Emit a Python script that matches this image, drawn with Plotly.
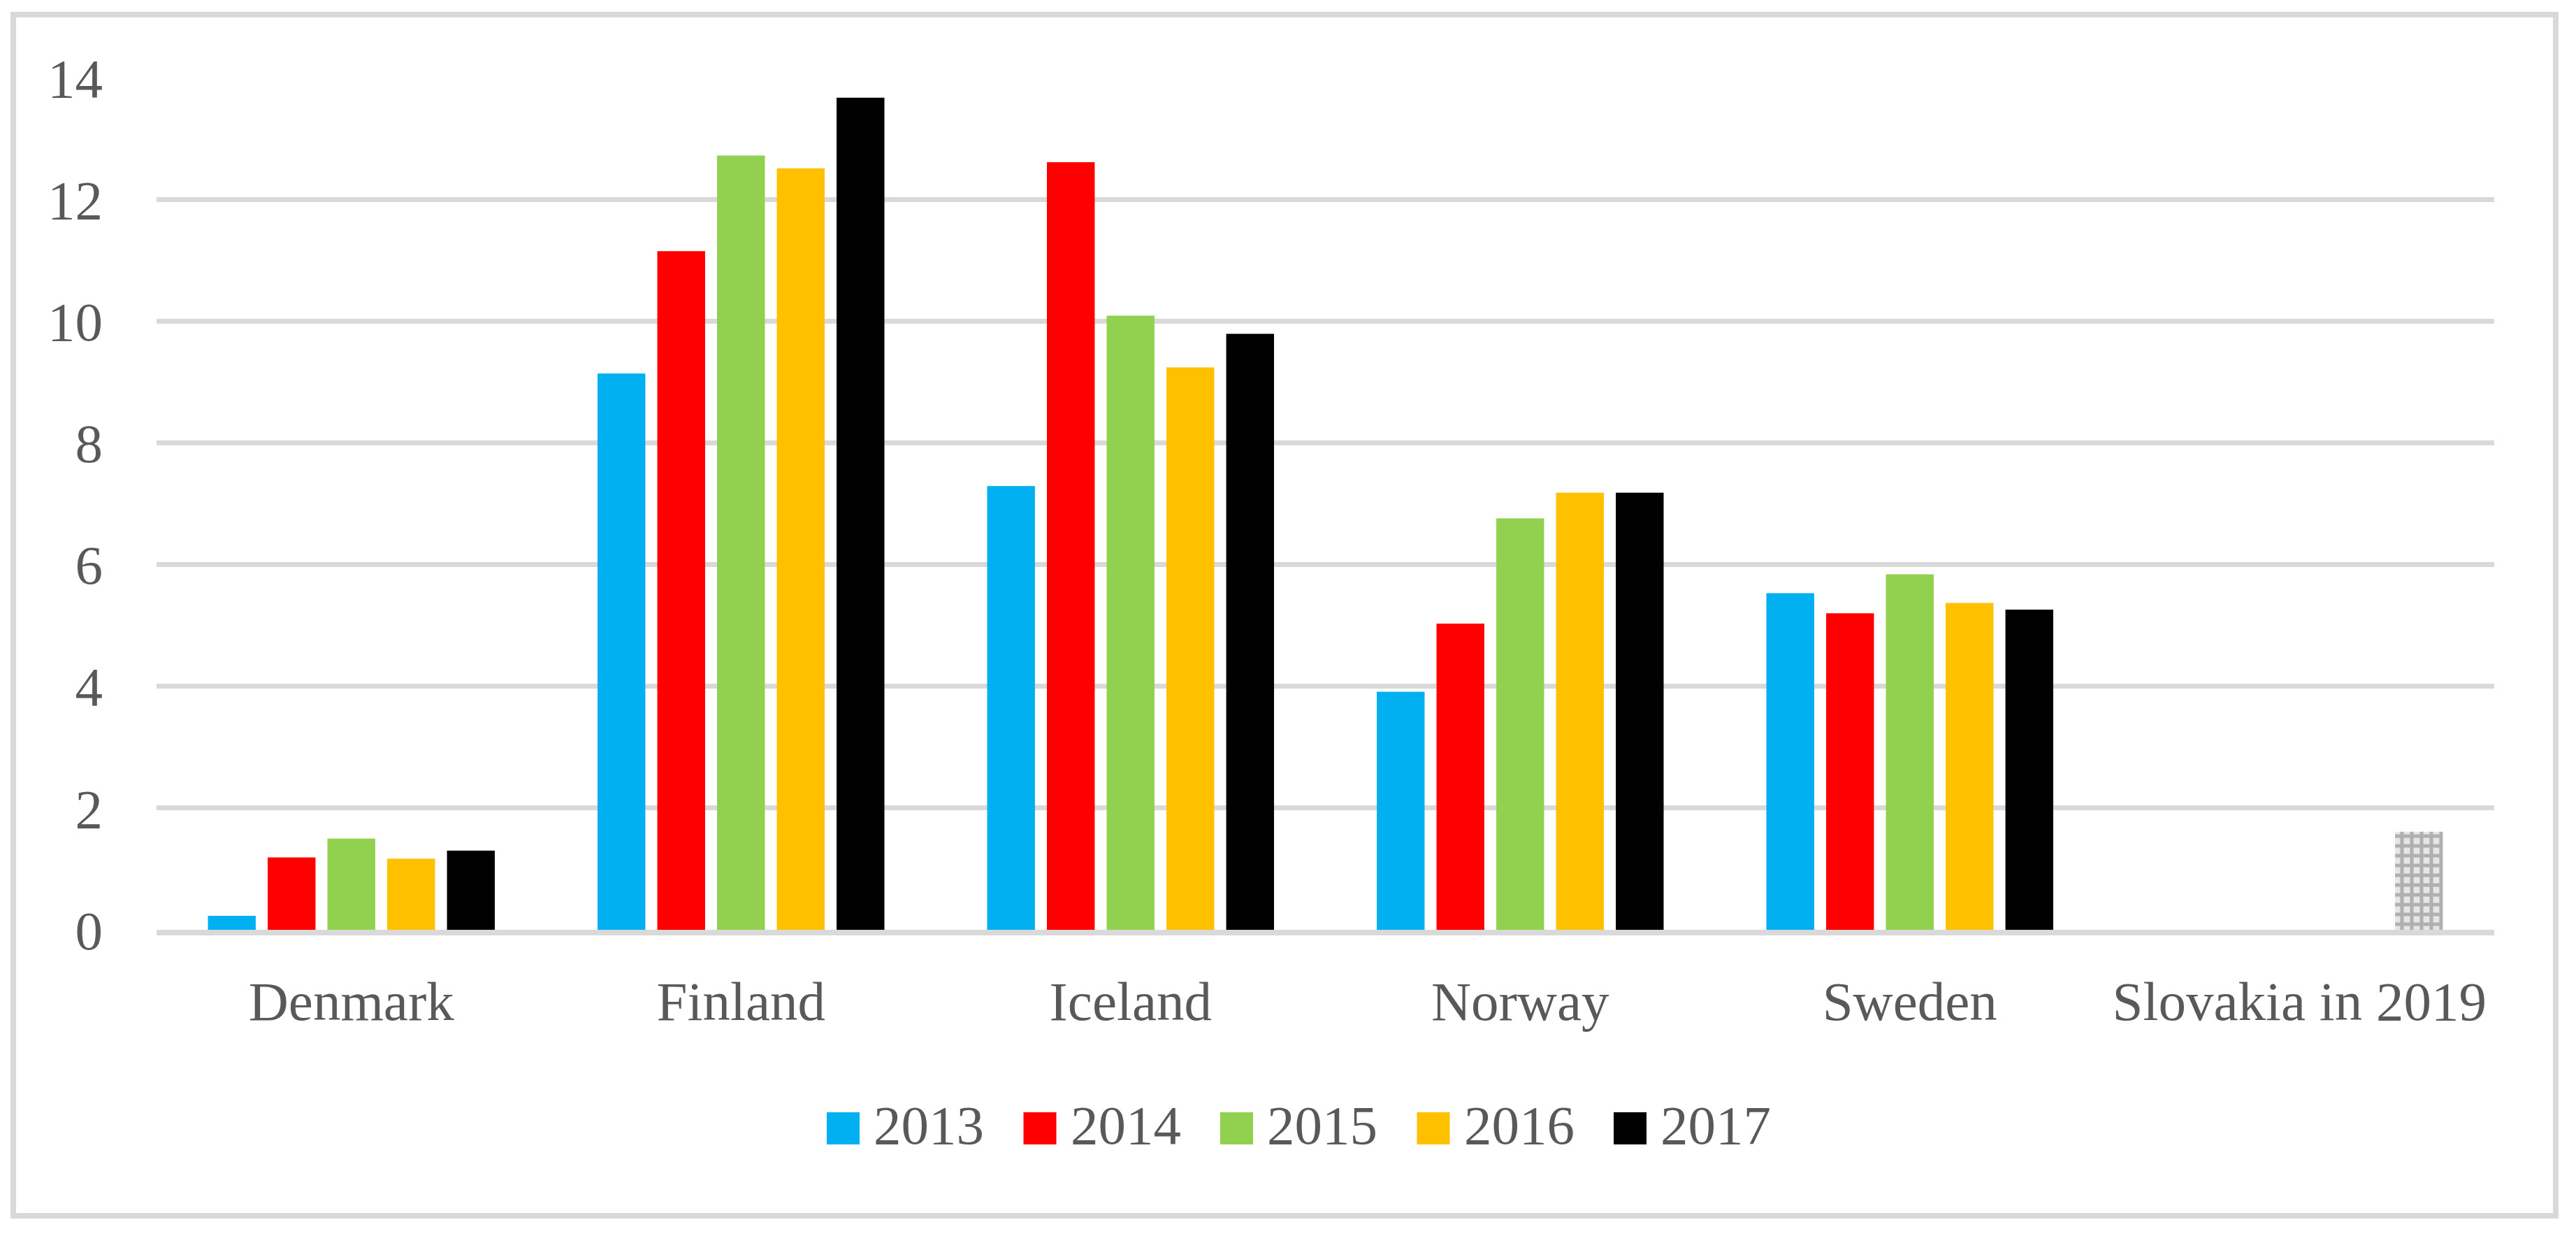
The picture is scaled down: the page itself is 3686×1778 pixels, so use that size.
import plotly.graph_objects as go

categories = ["Denmark", "Finland", "Iceland", "Norway", "Sweden", "Slovakia in 2019"]
years = ["2013", "2014", "2015", "2016", "2017"]
v2013 = [0.23, 9.14, 7.29, 3.91, 5.53, None]
v2014 = [1.19, 11.15, 12.61, 5.03, 5.20, None]
v2015 = [1.50, 12.72, 10.09, 6.76, 5.84, None]
v2016 = [1.17, 12.51, 9.24, 7.18, 5.37, None]
v2017 = [1.30, 13.67, 9.79, 7.18, 5.26, None]
slovakia_2019 = [None, None, None, None, None, 1.61]
series = [v2013, v2014, v2015, v2016, v2017]
colors = ["#00B0F0", "#FF0000", "#92D050", "#FFC000", "#000000"]

W, H = 3686, 1778
L, R, T, B = 224, 3569, 111, 1330
PW, PH = R - L, B - T
FONT = "Liberation Serif"
FS = 79
TXT = "#595959"
GRID = "#D9D9D9"


def px(x):
    return (x - L) / PW


def py(y):
    return (B - y) / PH


fig = go.Figure()
for name, vals, col in zip(years, series, colors):
    fig.add_trace(go.Bar(x=categories, y=vals, name=name, offsetgroup=name,
                         marker=dict(color=col, line=dict(width=0)), showlegend=False))
fig.add_trace(go.Bar(x=categories, y=slovakia_2019, name="Slovakia 2019", offsetgroup="2017",
                     marker=dict(color="#FFFFFF", line=dict(width=0),
                                 pattern=dict(shape="+", fgcolor="#7A7A7A", bgcolor="#E6E6E6",
                                              size=14, solidity=0.6)),
                     showlegend=False))

shapes = [dict(type="rect", xref="paper", yref="paper",
               x0=px(19), x1=px(3657), y0=py(1739), y1=py(21),
               line=dict(color=GRID, width=8), fillcolor="rgba(0,0,0,0)", layer="below")]
annotations = []
sw_x0, sw_step, sw_w = 1183, 281.5, 47
for i, (name, col) in enumerate(zip(years, colors)):
    x0 = sw_x0 + i * sw_step
    shapes.append(dict(type="rect", xref="paper", yref="paper",
                       x0=px(x0), x1=px(x0 + sw_w), y0=py(1637), y1=py(1591),
                       line=dict(width=0), fillcolor=col))
    annotations.append(dict(text=name, xref="paper", yref="paper", x=px(x0 + 65), y=py(1609),
                            xanchor="left", yanchor="middle", showarrow=False,
                            font=dict(family=FONT, size=FS, color=TXT)))

fig.update_layout(
    width=W, height=H,
    margin=dict(l=L, r=W - R, t=T, b=H - B, pad=0),
    paper_bgcolor="white", plot_bgcolor="white",
    barmode="group", bargap=0.233, bargroupgap=0.2,
    font=dict(family=FONT, size=FS, color=TXT),
    shapes=shapes, annotations=annotations,
    showlegend=False,
)
fig.update_xaxes(showgrid=False, showline=True, linecolor=GRID, linewidth=8,
                 ticks="", tickfont=dict(family=FONT, size=FS, color=TXT),
                 ticklabelstandoff=26, layer="above traces")
fig.update_yaxes(range=[0, 14], dtick=2, showgrid=True, gridcolor=GRID, gridwidth=7,
                 zeroline=False, showline=False, ticks="",
                 tickfont=dict(family=FONT, size=FS, color=TXT), ticklabelstandoff=76)

fig.write_html("out.html", config={"displayModeBar": False},
               post_script="document.body.style.margin='0';")
